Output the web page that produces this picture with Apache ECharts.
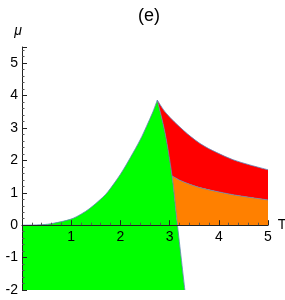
<!DOCTYPE html>
<html><head><meta charset="utf-8">
<script src="https://cdn.jsdelivr.net/npm/echarts@6/dist/echarts.min.js"></script>
<style>html,body{margin:0;padding:0;background:#fff}#c{width:285px;height:300px}</style>
</head><body><div id="c"></div>
<script>
// Green region upper-left boundary (T, mu): from origin to the cusp
const curveT  = [0, 0.4, 0.64, 0.98, 1.2, 1.38, 1.59, 1.75, 2.0, 2.2, 2.4, 2.53, 2.65, 2.75];
const curveMu = [0, 0.015, 0.06, 0.18, 0.34, 0.52, 0.79, 1.04, 1.57, 2.08, 2.63, 3.05, 3.46, 3.86];
// Near-vertical boundary from cusp down to mu = -2
const edgeT  = [2.75, 2.91, 3.05, 3.16, 3.31];
const edgeMu = [3.86, 2.83, 1.52, 0, -2];
// Upper boundary of red region
const redT  = [2.75, 2.94, 3.28, 3.62, 3.96, 4.29, 4.63, 5.0];
const redMu = [3.86, 3.44, 2.93, 2.52, 2.24, 2.02, 1.86, 1.71];
// Boundary between red (above) and orange (below)
const orgT  = [3.05, 3.28, 3.62, 3.96, 4.29, 4.63, 5.0];
const orgMu = [1.52, 1.34, 1.16, 1.04, 0.94, 0.86, 0.78];
const xTicks = [1, 2, 3, 4, 5];
const yTicks = [-2, -1, 0, 1, 2, 3, 4, 5];
const yMin = -2, yMax = 5.5;

const zip = (a, b) => a.map((v, i) => [v, b[i]]);
const curve = zip(curveT, curveMu);
const edge = zip(edgeT, edgeMu);
const red = zip(redT, redMu);
const org = zip(orgT, orgMu);

// Catmull-Rom -> cubic Bezier path through pixel points (smooth) or straight lines
function segPath(px, smooth, first) {
  let d = first ? 'M' + px[0][0] + ',' + px[0][1] : 'L' + px[0][0] + ',' + px[0][1];
  if (!smooth || px.length < 3) {
    for (let i = 1; i < px.length; i++) d += 'L' + px[i][0] + ',' + px[i][1];
    return d;
  }
  for (let i = 0; i < px.length - 1; i++) {
    const p0 = px[Math.max(i - 1, 0)], p1 = px[i], p2 = px[i + 1], p3 = px[Math.min(i + 2, px.length - 1)];
    const c1 = [p1[0] + (p2[0] - p0[0]) / 6, p1[1] + (p2[1] - p0[1]) / 6];
    const c2 = [p2[0] - (p3[0] - p1[0]) / 6, p2[1] - (p3[1] - p1[1]) / 6];
    d += 'C' + c1[0] + ',' + c1[1] + ' ' + c2[0] + ',' + c2[1] + ' ' + p2[0] + ',' + p2[1];
  }
  return d;
}
const edgeColor = 'rgba(94,129,181,0.8)';
function regionSeries(segs, color) {
  return {
    type: 'custom', z: 1, silent: true, data: [0],
    renderItem: function (params, api) {
      let d = '';
      segs.forEach((s, k) => { d += segPath(s[0].map(p => api.coord(p)), s[1], k === 0); });
      d += 'Z';
      return {type: 'path', shape: {pathData: d}, style: {fill: color, stroke: null}};
    }
  };
}
function edgeSeries(pts, smooth) {
  return {
    type: 'custom', z: 2, silent: true, data: [0],
    renderItem: function (params, api) {
      return {type: 'path', shape: {pathData: segPath(pts.map(p => api.coord(p)), smooth, true)},
        style: {fill: null, stroke: edgeColor, lineWidth: 1}};
    }
  };
}
const rev = a => a.slice().reverse();
const greenSegs = [[[[0, -2], [0, 0]], false], [curve, true], [edge, true]];
const redSegs = [[red, true], [rev(org), true], [rev(edge.slice(0, 3)), true]];
const orangeSegs = [[org, true], [[[5, 0], [3.16, 0]], false], [rev(edge.slice(2, 4)), false]];

const gridTop = 47, gridBottom = 10, H = 300;
const plotH = H - gridTop - gridBottom;
// shift the x axis up so it sits at mu = 0
const xOffset = -plotH * (0 - yMin) / (yMax - yMin);

const labelFont = {fontFamily: 'Liberation Sans', fontSize: 14, color: '#000'};
const chart = echarts.init(document.getElementById('c'), null, {renderer: 'canvas'});
chart.setOption({
  animation: false,
  title: {text: '(e)', left: 144, top: 2, textAlign: 'center',
    textStyle: {fontFamily: 'Liberation Sans', fontSize: 18, fontWeight: 'normal', color: '#000'}},
  grid: {left: 22, right: 17, top: gridTop, bottom: gridBottom, containLabel: false, outerBoundsMode: 'none'},
  xAxis: {type: 'value', min: 0, max: 5, interval: 1, offset: xOffset, z: 10,
    name: 'T', nameLocation: 'end', nameGap: 5,
    nameTextStyle: {fontFamily: 'Liberation Sans', fontSize: 14, color: '#000', verticalAlign: 'middle'},
    axisLine: {onZero: false, lineStyle: {color: '#222', width: 1}},
    axisTick: {inside: true, length: 5, lineStyle: {color: '#222'}},
    minorTick: {show: true, splitNumber: 5, length: 2.5, lineStyle: {color: '#555'}},
    splitLine: {show: false},
    axisLabel: Object.assign({margin: 5, showMinLabel: false,
      formatter: v => xTicks.includes(v) ? String(v) : ''}, labelFont)
  },
  yAxis: {type: 'value', min: yMin, max: yMax, interval: 1, z: 10,
    name: 'μ', nameLocation: 'end', nameGap: 9,
    nameTextStyle: {fontFamily: 'Liberation Sans', fontSize: 14, color: '#000', fontStyle: 'italic', align: 'right'},
    axisLine: {onZero: false, lineStyle: {color: '#222', width: 1}},
    axisTick: {inside: true, length: 5, lineStyle: {color: '#222'}},
    minorTick: {show: true, splitNumber: 5, length: 2.5, lineStyle: {color: '#555'}},
    splitLine: {show: false},
    axisLabel: Object.assign({margin: 4, showMaxLabel: false,
      formatter: v => yTicks.includes(v) ? String(v) : ''}, labelFont)
  },
  series: [
    regionSeries(greenSegs, '#00ff00'),
    regionSeries(redSegs, '#ff0000'),
    regionSeries(orangeSegs, '#ff8000'),
    edgeSeries(curve, true), edgeSeries(edge, true), edgeSeries(red, true), edgeSeries(org, true)
  ]
});
</script></body></html>
